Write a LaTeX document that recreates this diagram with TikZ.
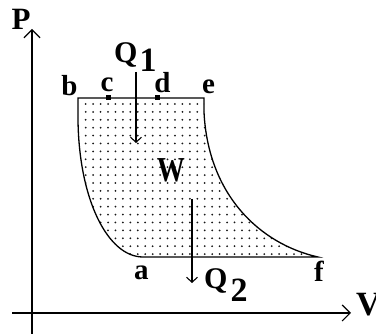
\documentclass[tikz,border=0pt]{standalone}
\usepackage{fontspec}
\setmainfont{Liberation Serif}
\usetikzlibrary{arrows.meta}
\newcommand{\fs}[1]{\fontsize{#1}{#1}\selectfont}
\begin{document}
\begin{tikzpicture}[x=1pt,y=-1pt,
  lbl/.style={font=\bfseries\fs{29}, inner sep=0pt, anchor=base},
  curve/.style={line width=1.3pt},
  ax/.style={line width=1.4pt, -{Straight Barb[length=8pt,width=16pt,line width=1.2pt]}},
  heat/.style={line width=1.2pt, -{Straight Barb[length=5pt,width=11pt,line width=1.1pt]}},
  pt/.style={fill, inner sep=0pt, minimum size=5pt, rectangle}]
\useasboundingbox (0,0) rectangle (376,334);
% corner points
\coordinate (b) at (78,98);
\coordinate (e) at (204,98);
\coordinate (a) at (143,257);
\coordinate (f) at (318,257);
\coordinate (e2) at (204,112);
\coordinate (b2) at (78,120);
% dotted fill
\begin{scope}
\clip (b) -- (e) -- (e2) .. controls (208,195) and (260,244) .. (f) -- (a) .. controls (108,257) and (79,200) .. (b2) -- cycle;
\foreach \i in {0,...,32} {
  \foreach \j in {0,...,19} {
    \fill[black!90] ({85.7+7.44*\i},{104+7.9*\j}) circle (1pt);
  }
}
\end{scope}
% outline
\draw[curve] (b) -- (e) -- (e2) .. controls (208,195) and (260,244) .. (f) -- (a) .. controls (108,257) and (79,200) .. (b2) -- cycle;
% points c and d
\node[pt] (c) at (108,98) {};
\node[pt] (d) at (157,98) {};
% axes
\coordinate (yb) at (32,334);
\coordinate (yt) at (32,29);
\coordinate (xl) at (12,313);
\coordinate (xr) at (351,313);
\draw[ax] (yb) -- (yt);
\draw[ax] (xl) -- (xr);
% heat arrows
\coordinate (q1s) at (136,72);
\coordinate (q1e) at (136,143);
\coordinate (q2s) at (192,199);
\coordinate (q2e) at (192,283);
\draw[heat] (q1s) -- (q1e);
\draw[heat] (q2s) -- (q2e);
% labels
\node[lbl] (lP) at (21,29.5) {\fs{31}P};
\node[lbl] (lb) at (69.5,95.5) {b};
\node[lbl] (lc) at (107,92) {c};
\node[lbl] (ld) at (162.5,92.5) {d};
\node[lbl] (le) at (208.5,94) {e};
\node[lbl] (la) at (141.5,280) {a};
\node[lbl] (lf) at (319,282) {f};
\node[lbl] (lW) at (171,182) {\fs{35}\scalebox{0.8}[1]{W}};
\node[lbl, anchor=base west] (lQ1) at (114,63) {\fs{30}Q\kern2pt\raisebox{-9pt}{\fs{34}1}};
\node[lbl, anchor=base west] (lQ2) at (204,289) {\fs{30}Q\kern3pt\raisebox{-13pt}{\fs{34}2}};
\node[lbl, anchor=base west] (lV) at (356,316) {\fs{34}V};
\end{tikzpicture}
\end{document}
